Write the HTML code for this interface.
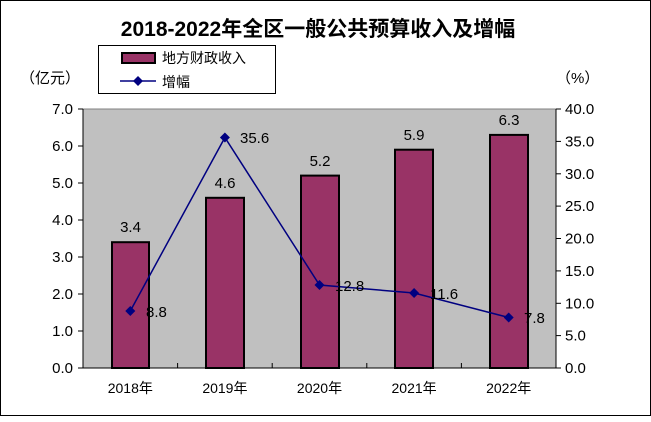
<!DOCTYPE html>
<html><head><meta charset="utf-8"><style>
html,body{margin:0;padding:0;background:#fff}
svg text{font-family:"Liberation Sans","Noto Sans CJK SC",sans-serif}
</style></head><body>
<svg width="651" height="417" xmlns="http://www.w3.org/2000/svg">
<rect x="0.5" y="0.5" width="650" height="415" fill="#fff" stroke="#000" stroke-width="1"/>
<text x="318" y="36" font-size="21" font-weight="bold" text-anchor="middle">2018-2022年全区一般公共预算收入及增幅</text>
<rect x="83" y="109" width="473" height="259" fill="#c0c0c0"/>
<line x1="83" y1="109" x2="556" y2="109" stroke="#808080"/>
<g fill="#993366" stroke="#000" stroke-width="2">
<rect x="112" y="242.2" width="37" height="125.8"/>
<rect x="206" y="197.8" width="38" height="170.2"/>
<rect x="301" y="175.6" width="38" height="192.4"/>
<rect x="395" y="149.7" width="38" height="218.3"/>
<rect x="490" y="134.9" width="38" height="233.1"/>
</g>
<line x1="83" y1="109" x2="83" y2="368" stroke="#000"/>
<line x1="556" y1="109" x2="556" y2="368" stroke="#000"/>
<line x1="83" y1="368" x2="556" y2="368" stroke="#000"/>
<g stroke="#000">
<line x1="78" y1="109" x2="83" y2="109"/><line x1="78" y1="146" x2="83" y2="146"/><line x1="78" y1="183" x2="83" y2="183"/><line x1="78" y1="220" x2="83" y2="220"/><line x1="78" y1="257" x2="83" y2="257"/><line x1="78" y1="294" x2="83" y2="294"/><line x1="78" y1="331" x2="83" y2="331"/><line x1="78" y1="368" x2="83" y2="368"/>
<line x1="556" y1="109" x2="561" y2="109"/><line x1="556" y1="141.4" x2="561" y2="141.4"/><line x1="556" y1="173.8" x2="561" y2="173.8"/><line x1="556" y1="206.1" x2="561" y2="206.1"/><line x1="556" y1="238.5" x2="561" y2="238.5"/><line x1="556" y1="270.9" x2="561" y2="270.9"/><line x1="556" y1="303.3" x2="561" y2="303.3"/><line x1="556" y1="335.6" x2="561" y2="335.6"/><line x1="556" y1="368" x2="561" y2="368"/>
<line x1="177.6" y1="363" x2="177.6" y2="368"/><line x1="272.2" y1="363" x2="272.2" y2="368"/><line x1="366.8" y1="363" x2="366.8" y2="368"/><line x1="461.4" y1="363" x2="461.4" y2="368"/>
</g>
<g font-size="15" text-anchor="end">
<text x="73" y="114">7.0</text><text x="73" y="151">6.0</text><text x="73" y="188">5.0</text><text x="73" y="225">4.0</text><text x="73" y="262">3.0</text><text x="73" y="299">2.0</text><text x="73" y="336">1.0</text><text x="73" y="373">0.0</text>
</g>
<g font-size="15">
<text x="565" y="114">40.0</text><text x="565" y="146.4">35.0</text><text x="565" y="178.8">30.0</text><text x="565" y="211.1">25.0</text><text x="565" y="243.5">20.0</text><text x="565" y="275.9">15.0</text><text x="565" y="308.3">10.0</text><text x="565" y="340.6">5.0</text><text x="565" y="373">0.0</text>
</g>
<text x="20" y="83" font-size="15">（亿元）</text>
<text x="556" y="83" font-size="15">（%）</text>
<g font-size="14" text-anchor="middle">
<text x="130.3" y="393">2018年</text><text x="224.9" y="393">2019年</text><text x="319.5" y="393">2020年</text><text x="414.1" y="393">2021年</text><text x="508.7" y="393">2022年</text>
</g>
<g font-size="15" text-anchor="middle">
<text x="130.5" y="232">3.4</text><text x="225" y="188">4.6</text><text x="320" y="166">5.2</text><text x="414" y="140">5.9</text><text x="509" y="125">6.3</text>
</g>
<polyline points="130.3,311 224.9,137.5 319.5,285 414.1,293 508.7,317.5" fill="none" stroke="#000080" stroke-width="1.5"/>
<g fill="#000080">
<path d="M130.3,306 l5,5 l-5,5 l-5,-5z"/><path d="M224.9,132.5 l5,5 l-5,5 l-5,-5z"/><path d="M319.5,280 l5,5 l-5,5 l-5,-5z"/><path d="M414.1,288 l5,5 l-5,5 l-5,-5z"/><path d="M508.7,312.5 l5,5 l-5,5 l-5,-5z"/>
</g>
<g font-size="15">
<text x="146" y="317">8.8</text><text x="240" y="143">35.6</text><text x="335" y="291">12.8</text><text x="430" y="299">11.6</text><text x="524" y="323">7.8</text>
</g>
<rect x="98.5" y="45.5" width="177" height="48" fill="#fff" stroke="#000"/>
<rect x="122" y="53" width="33" height="10" fill="#993366" stroke="#000" stroke-width="2"/>
<text x="162" y="63" font-size="14">地方财政收入</text>
<line x1="120" y1="81" x2="156" y2="81" stroke="#000080" stroke-width="1.5"/>
<path d="M138,76 l5,5 l-5,5 l-5,-5z" fill="#000080"/>
<text x="162" y="87" font-size="14">增幅</text>
</svg>
</body></html>
